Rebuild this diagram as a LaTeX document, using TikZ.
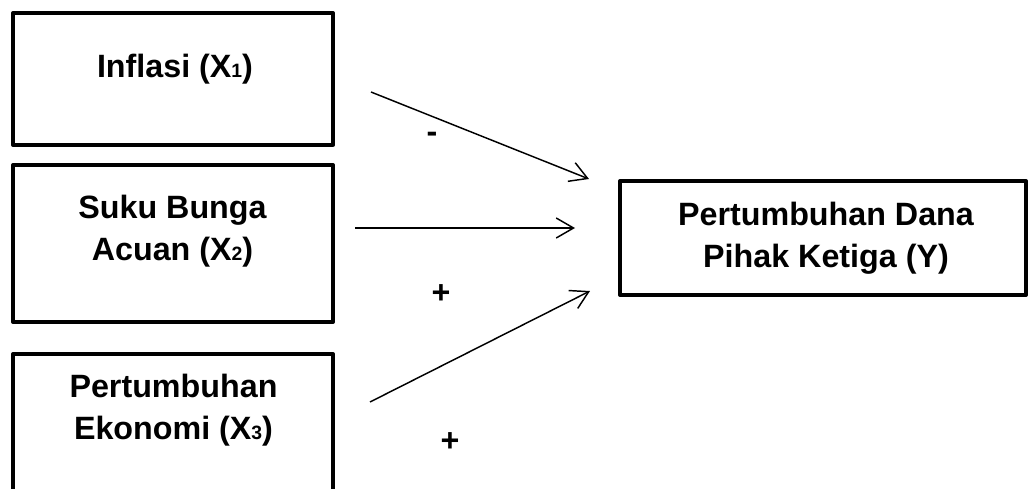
\documentclass[tikz,border=0pt]{standalone}
\usepackage{fontspec}
\setmainfont{Liberation Sans}
\usetikzlibrary{arrows.meta}
\newcommand{\sbs}[1]{\raisebox{-0.5pt}{\fontsize{14.5pt}{14.5pt}\selectfont #1}}
\begin{document}
\begin{tikzpicture}[x=0.75pt,y=-0.75pt,
  box/.style={draw, line width=3pt, line join=round, inner sep=0pt},
  lbl/.style={font=\fontsize{24.2pt}{31.5pt}\selectfont\bfseries, inner sep=0pt, anchor=base},
  sign/.style={font=\fontsize{24.2pt}{31.5pt}\selectfont\bfseries, inner sep=0pt},
  conn/.style={line width=1.1pt, -{Straight Barb[length=13pt,width=15pt]}}]
\clip (0,0) rectangle (1028,489);
% boxes
\node[box, minimum width=240pt, minimum height=98.6pt] (b1) at (173,79) {};
\node[box, minimum width=240pt, minimum height=117.75pt] (b2) at (173,243.5) {};
\node[box, minimum width=240pt, minimum height=124.5pt] (b3) at (173,437) {};
\node[box, minimum width=304.5pt, minimum height=85.5pt] (by) at (823,238) {};
% texts
\node[lbl] (t1) at (175,77) {Inflasi (X\sbs{1})};
\node[lbl] (t2) at (172.5,218) {\setlength{\tabcolsep}{0pt}\begin{tabular}[t]{c}Suku Bunga\\Acuan (X\sbs{2})\end{tabular}};
\node[lbl] (t3) at (173.5,397) {\setlength{\tabcolsep}{0pt}\begin{tabular}[t]{c}Pertumbuhan\\Ekonomi (X\sbs{3})\end{tabular}};
\node[lbl] (ty) at (826,225) {\setlength{\tabcolsep}{0pt}\begin{tabular}[t]{c}Pertumbuhan Dana\\Pihak Ketiga (Y)\end{tabular}};
% arrows
\coordinate (a1s) at (371,92);
\coordinate (a1e) at (589,179);
\coordinate (a2s) at (355,228);
\coordinate (a2e) at (575,228);
\coordinate (a3s) at (370,402);
\coordinate (a3e) at (590,291);
\draw[conn] (a1s) -- (a1e);
\draw[conn] (a2s) -- (a2e);
\draw[conn] (a3s) -- (a3e);
% signs
\node[sign] (s1) at (432,137) {-};
\node[sign] (s2) at (441,294) {+};
\node[sign] (s3) at (450,442) {+};
\end{tikzpicture}
\end{document}
